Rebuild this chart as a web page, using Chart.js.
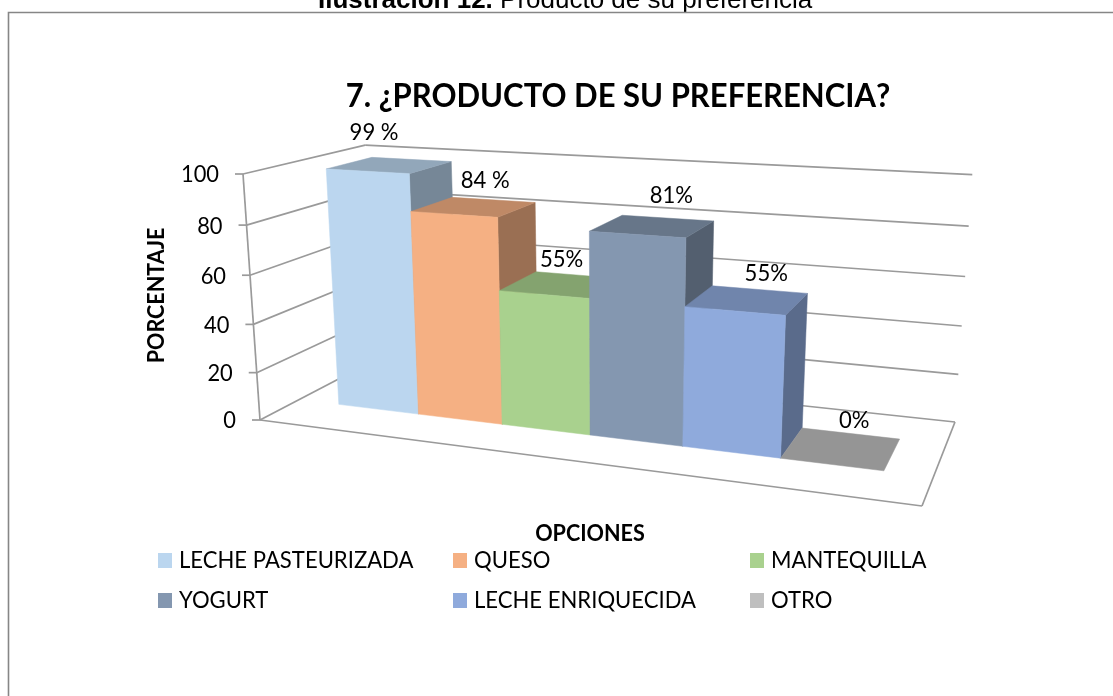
<!DOCTYPE html>
<html><head><meta charset="utf-8">
<script src="https://cdn.jsdelivr.net/npm/chart.js@4"></script>
<style>html,body{margin:0;padding:0;background:#fff}canvas{display:block}</style>
</head><body><canvas id="c" width="1113" height="696"></canvas>
<script>
// ---- data ----
const categories = ['OPCIONES'];
const seriesNames = ['LECHE PASTEURIZADA','QUESO','MANTEQUILLA','YOGURT','LECHE ENRIQUECIDA','OTRO'];
const seriesValues = [99,84,55,81,55,0];
const valueLabels = ['99 %','84 %','55%','81%','55%','0%'];
const seriesColors = ['#BBD6EF','#F5B083','#A9D18E','#8497B0','#8FAADC','#BFBFBF'];

// ---- layout / view constants ----
const heading = ['Ilustración 12.',' Producto de su preferencia'];
const chartTitle = '7. ¿PRODUCTO DE SU PREFERENCIA?';
const yTitle = 'PORCENTAJE';
const FONT = 'Lato, "Open Sans", sans-serif';
const O={x:260,y:420}, B={x:922,y:506}, T={x:243,y:174}, D={x:375,y:360};
const wB=.826, wD=1.1513, wT=.9535;
const depth0=.31, depth1=.70, uShift=.004, skewY=4.5;
const labelOffsets=[[-37,-27],[-8,-19],[-17,-16],[4,-23],[7,-15.5],[4,-13]];
const legendCols=[158,453,750], legendRows=[561,601];

function project(u,v,w){
  const den=1+u*(wB-1)+v*(wT-1)+w*(wD-1);
  const f=k=>O[k]+u*(wB*B[k]-O[k])+v*(wT*T[k]-O[k])+w*(wD*D[k]-O[k]);
  return [f('x')/den,f('y')/den+skewY*u*v];
}
function poly(ctx,pts,fill){
  ctx.beginPath();pts.forEach((p,i)=>i?ctx.lineTo(p[0],p[1]):ctx.moveTo(p[0],p[1]));ctx.closePath();
  ctx.fillStyle=fill;ctx.fill();ctx.strokeStyle=fill;ctx.lineWidth=.5;ctx.stroke();
}
function line(ctx,a,b){ctx.beginPath();ctx.moveTo(a[0],a[1]);ctx.lineTo(b[0],b[1]);ctx.stroke();}
function shade(hex,f){
  const n=parseInt(hex.slice(1),16);
  return 'rgb('+[(n>>16)&255,(n>>8)&255,n&255].map(c=>Math.round(c*f)).join(',')+')';
}
function text(ctx,s,x,y,font,align,sx){
  ctx.save();ctx.translate(x,y);ctx.scale(sx||1,1);
  ctx.font=font;ctx.textAlign=align||'center';ctx.textBaseline='middle';ctx.fillStyle='#000';ctx.fillText(s,0,0);
  ctx.restore();
}

const scene3d={
  id:'scene3d',
  beforeDraw(chart){
    const ctx=chart.ctx, yS=chart.scales.y;
    const vOf=val=>(yS.bottom-yS.getPixelForValue(val))/(yS.bottom-yS.top);
    ctx.save();
    ctx.fillStyle='#fff';ctx.fillRect(0,0,chart.width,chart.height);
    // heading
    ctx.textBaseline='alphabetic';ctx.textAlign='left';ctx.fillStyle='#000';
    ctx.font='bold 26px "Liberation Sans"';
    let hx=318;ctx.fillText(heading[0],hx,7.5);hx+=ctx.measureText(heading[0]).width;
    ctx.font='26px "Liberation Sans"';ctx.fillText(heading[1],hx,7.5);
    // frame: left and top edges only reach the picture
    ctx.strokeStyle='#868686';ctx.lineWidth=1.6;
    ctx.beginPath();ctx.moveTo(8.5,696);ctx.lineTo(8.5,12.5);ctx.lineTo(1113,12.5);ctx.stroke();
    // walls and grid
    ctx.strokeStyle='#9A9A9A';ctx.lineWidth=1.7;
    yS.ticks.forEach(t=>{
      const v=vOf(t.value);
      const p0=project(0,v,0),p1=project(0,v,1),p2=project(1,v,1);
      line(ctx,p0,p1);line(ctx,p1,p2);
      line(ctx,[p0[0]-8,p0[1]],p0);
      text(ctx,String(t.value),p0[0]-24,p0[1]+1,'23px '+FONT,'right',.95);
    });
    line(ctx,project(0,0,0),project(0,1,0));
    line(ctx,project(0,0,0),project(1,0,0));
    line(ctx,project(1,0,0),project(1,0,1));
    ctx.restore();
  },
  beforeDatasetDraw(){return false;},
  afterDatasetsDraw(chart){
    const ctx=chart.ctx,a=chart.chartArea;
    const U=x=>(x-a.left)/(a.right-a.left)+uShift, V=y=>(a.bottom-y)/(a.bottom-a.top);
    ctx.save();
    chart.data.datasets.forEach((ds,i)=>{
      const el=chart.getDatasetMeta(i).data[0];
      const u0=U(el.x-el.width/2),u1=U(el.x+el.width/2),v1=V(el.y),v0=V(el.base);
      const c=ds.backgroundColor;
      const fb=project(u0,v0,depth0),fbr=project(u1,v0,depth0),ft=project(u0,v1,depth0),ftr=project(u1,v1,depth0);
      const bt=project(u0,v1,depth1),btr=project(u1,v1,depth1),bbr=project(u1,v0,depth1);
      if(v1>v0){
        poly(ctx,[fbr,bbr,btr,ftr],shade(c,.63));
        poly(ctx,[ft,bt,btr,ftr],shade(c,.78));
        poly(ctx,[fb,fbr,ftr,ft],c);
      } else {
        poly(ctx,[ft,bt,btr,ftr],shade(c,.78));
      }
    });
    chart.data.datasets.forEach((ds,i)=>{
      const el=chart.getDatasetMeta(i).data[0];
      const p=project(U(el.x),V(el.y),depth1);
      text(ctx,valueLabels[i],p[0]+labelOffsets[i][0],p[1]+labelOffsets[i][1],'23px '+FONT,'center',.96);
    });
    // titles
    text(ctx,chartTitle,618,96,'bold 33px '+FONT,'center',.94);
    text(ctx,categories[0],590,534,'bold 22px '+FONT,'center',.98);
    ctx.save();ctx.translate(157,295.5);ctx.rotate(-Math.PI/2);
    text(ctx,yTitle,0,0,'bold 22px '+FONT,'center',.98);ctx.restore();
    // legend
    chart.data.datasets.forEach((ds,i)=>{
      const x=legendCols[i%3],y=legendRows[Math.floor(i/3)];
      ctx.fillStyle=ds.backgroundColor;ctx.fillRect(x,y-8,14,15);
      text(ctx,ds.label,x+21,y,'23px '+FONT,'left',.96);
    });
    ctx.restore();
  }
};

new Chart(document.getElementById('c'),{
  type:'bar',
  data:{labels:categories,datasets:seriesNames.map((n,i)=>({label:n,data:[seriesValues[i]],backgroundColor:seriesColors[i],categoryPercentage:.86,barPercentage:1}))},
  options:{
    responsive:false,animation:false,
    layout:{padding:{left:260,right:150,top:174,bottom:230}},
    plugins:{legend:{display:false},title:{display:false},tooltip:{enabled:false}},
    scales:{
      x:{display:false},
      y:{display:false,min:0,max:100,ticks:{stepSize:20}}
    }
  },
  plugins:[scene3d]
});
</script></body></html>
